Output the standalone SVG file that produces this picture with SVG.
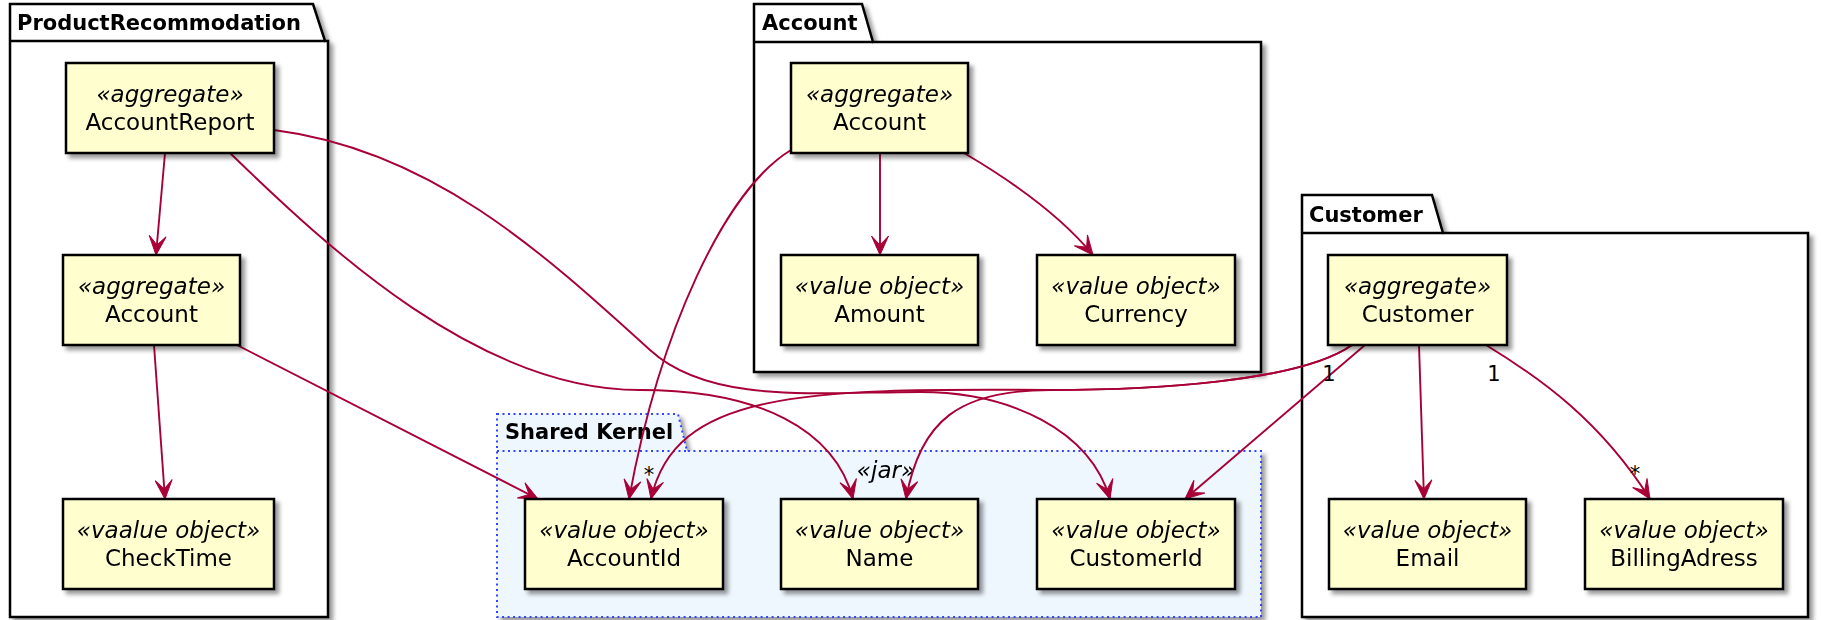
<svg xmlns="http://www.w3.org/2000/svg" width="1821" height="620" viewBox="0 0 1821 620">
<defs>
  <filter id="sh" x="-10%" y="-10%" width="130%" height="130%">
    <feGaussianBlur in="SourceAlpha" stdDeviation="2"/>
    <feOffset dx="4" dy="4" result="o"/>
    <feFlood flood-color="#000" flood-opacity="0.4"/>
    <feComposite in2="o" operator="in"/>
    <feMerge><feMergeNode/><feMergeNode in="SourceGraphic"/></feMerge>
  </filter>
  <marker id="ah" markerUnits="userSpaceOnUse" markerWidth="24" markerHeight="20" viewBox="-21 -10 24 20" refX="0" refY="0" orient="auto" overflow="visible">
    <path d="M0,0 L-19,-8.5 L-10,0 L-19,8.5 Z" fill="#A80036" stroke="#A80036" stroke-width="1"/>
  </marker>
</defs>
<style>
  .pkg { fill: #ffffff; stroke: #000; stroke-width: 2.5; }
  .sk { fill: #EEF6FE; stroke: #3344FF; stroke-width: 2; stroke-dasharray: 2 3.5; }
  .tabline { fill: none; stroke: #000; stroke-width: 2.5; }
  .sktab { fill: none; stroke: #3344FF; stroke-width: 2; stroke-dasharray: 2 3.5; }
  .ptitle { font-family: "DejaVu Sans", sans-serif; font-weight: bold; font-size: 21px; fill: #000; }
  .box { fill: #FEFECE; stroke: #000; stroke-width: 2.5; }
  .st { font-family: "DejaVu Sans", sans-serif; font-style: italic; font-size: 23px; fill: #000; text-anchor: middle; }
  .nm { font-family: "DejaVu Sans", sans-serif; font-size: 23px; fill: #000; text-anchor: middle; }
  .edge { fill: none; stroke: #A80036; stroke-width: 1.9; marker-end: url(#ah); }
  .lbl { font-family: "DejaVu Sans", sans-serif; font-size: 21px; fill: #000; text-anchor: middle; }
</style>

<g id="pkg-ProductRecommodation" filter="url(#sh)">
  <path class="pkg" d="M10,4 H313 L325,41 H328 V617 H10 Z"/>
  <path class="tabline" d="M10,41 H325"/>
  <text class="ptitle" x="17" y="30">ProductRecommodation</text>
</g>
<g id="pkg-Account" filter="url(#sh)">
  <path class="pkg" d="M754,4 H862 L873,42 H1261 V372 H754 Z"/>
  <path class="tabline" d="M754,42 H873"/>
  <text class="ptitle" x="762" y="30">Account</text>
</g>
<g id="pkg-Customer" filter="url(#sh)">
  <path class="pkg" d="M1302,195 H1432 L1443,233 H1808 V617 H1302 Z"/>
  <path class="tabline" d="M1302,233 H1443"/>
  <text class="ptitle" x="1309" y="222">Customer</text>
</g>
<g id="pkg-SharedKernel" filter="url(#sh)">
  <path class="sk" d="M497,414 H678 L687,451 H1261 V617 H497 Z"/>
  <path class="sktab" d="M497,451 H687"/>
  <text class="ptitle" x="505" y="439">Shared Kernel</text>
  <text class="st" x="886" y="478">«jar»</text>
</g>

<g id="connectors">
  <path class="edge" d="M165,153 L156,255"/>
  <path class="edge" d="M154,345 L165,499"/>
  <path class="edge" d="M237,345 L538,499"/>
  <path class="edge" d="M230,153 C330,250 480,390 640,390 C760,390 835,430 853,499"/>
  <path class="edge" d="M274,130 C430,150 540,250 650,350 C710,405 820,392 920,392 C1010,392 1090,430 1110,499"/>
  <path class="edge" d="M880,153 L880,255"/>
  <path class="edge" d="M964,153 C1010,180 1060,215 1093,255"/>
  <path class="edge" d="M791,150 C725,190 660,330 629,499"/>
  <path class="edge" d="M1352,345 C1300,382 1150,390 1050,390 C800,388 675,392 651,499"/>
  <path class="edge" d="M1352,345 C1300,382 1150,390 1050,390 C960,390 920,420 906,499"/>
  <path class="edge" d="M1365,345 L1185,499"/>
  <path class="edge" d="M1419,345 L1424,499"/>
  <path class="edge" d="M1486,345 C1540,378 1600,420 1650,499"/>
  <text class="lbl" x="649" y="482">*</text>
  <text class="lbl" x="1329" y="381">1</text>
  <text class="lbl" x="1494" y="381">1</text>
  <text class="lbl" x="1635" y="481">*</text>
</g>

<g id="node-AccountReport" filter="url(#sh)">
  <rect class="box" x="66" y="63" width="208" height="90"/>
  <text class="st" x="170" y="102">«aggregate»</text>
  <text class="nm" x="170" y="130">AccountReport</text>
</g>
<g id="node-PR-Account" filter="url(#sh)">
  <rect class="box" x="63" y="255" width="177" height="90"/>
  <text class="st" x="151.5" y="294">«aggregate»</text>
  <text class="nm" x="151.5" y="322">Account</text>
</g>
<g id="node-CheckTime" filter="url(#sh)">
  <rect class="box" x="63" y="499" width="211" height="90"/>
  <text class="st" x="168.5" y="538">«vaalue object»</text>
  <text class="nm" x="168.5" y="566">CheckTime</text>
</g>
<g id="node-Account" filter="url(#sh)">
  <rect class="box" x="791" y="63" width="177" height="90"/>
  <text class="st" x="879.5" y="102">«aggregate»</text>
  <text class="nm" x="879.5" y="130">Account</text>
</g>
<g id="node-Amount" filter="url(#sh)">
  <rect class="box" x="781" y="255" width="197" height="90"/>
  <text class="st" x="879.5" y="294">«value object»</text>
  <text class="nm" x="879.5" y="322">Amount</text>
</g>
<g id="node-Currency" filter="url(#sh)">
  <rect class="box" x="1037" y="255" width="198" height="90"/>
  <text class="st" x="1136" y="294">«value object»</text>
  <text class="nm" x="1136" y="322">Currency</text>
</g>
<g id="node-Customer" filter="url(#sh)">
  <rect class="box" x="1328" y="255" width="179" height="90"/>
  <text class="st" x="1417.5" y="294">«aggregate»</text>
  <text class="nm" x="1417.5" y="322">Customer</text>
</g>
<g id="node-Email" filter="url(#sh)">
  <rect class="box" x="1329" y="499" width="197" height="90"/>
  <text class="st" x="1427.5" y="538">«value object»</text>
  <text class="nm" x="1427.5" y="566">Email</text>
</g>
<g id="node-BillingAdress" filter="url(#sh)">
  <rect class="box" x="1585" y="499" width="198" height="90"/>
  <text class="st" x="1684" y="538">«value object»</text>
  <text class="nm" x="1684" y="566">BillingAdress</text>
</g>
<g id="node-AccountId" filter="url(#sh)">
  <rect class="box" x="525" y="499" width="198" height="90"/>
  <text class="st" x="624" y="538">«value object»</text>
  <text class="nm" x="624" y="566">AccountId</text>
</g>
<g id="node-Name" filter="url(#sh)">
  <rect class="box" x="781" y="499" width="197" height="90"/>
  <text class="st" x="879.5" y="538">«value object»</text>
  <text class="nm" x="879.5" y="566">Name</text>
</g>
<g id="node-CustomerId" filter="url(#sh)">
  <rect class="box" x="1037" y="499" width="198" height="90"/>
  <text class="st" x="1136" y="538">«value object»</text>
  <text class="nm" x="1136" y="566">CustomerId</text>
</g>
</svg>
